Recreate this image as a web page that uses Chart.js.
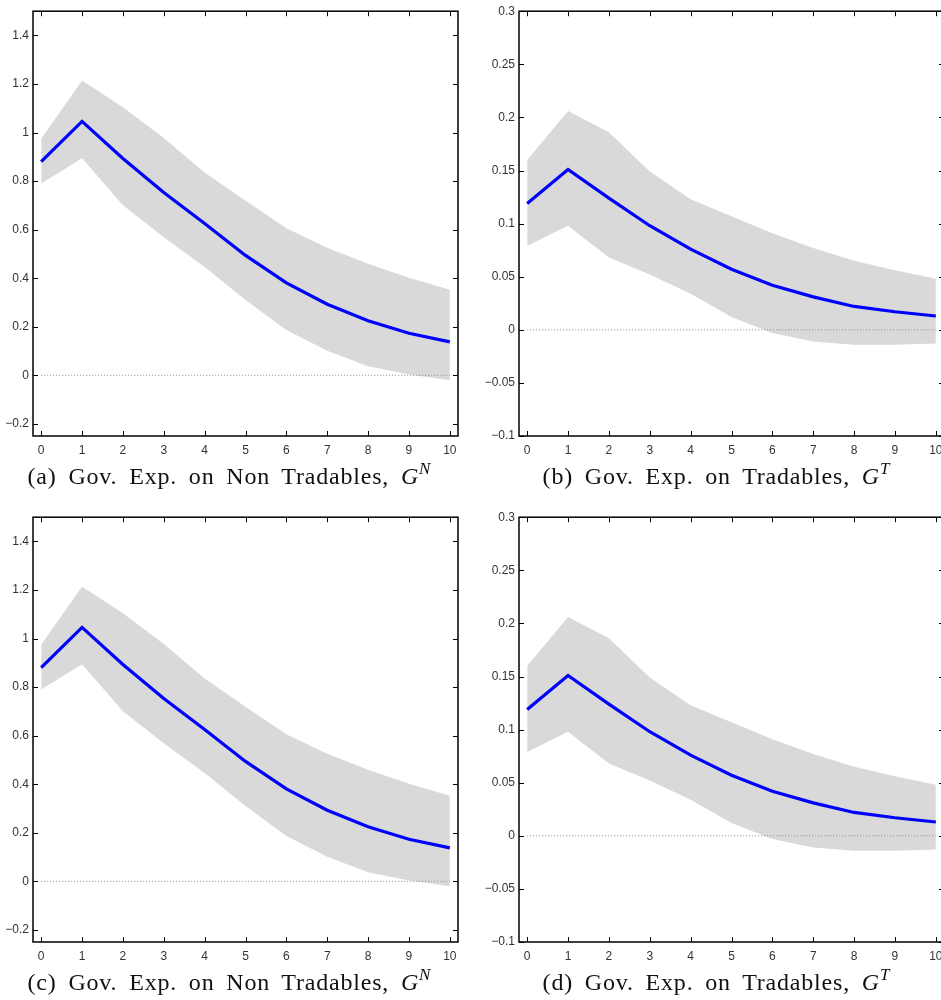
<!DOCTYPE html>
<html>
<head>
<meta charset="utf-8">
<script src="https://cdn.jsdelivr.net/npm/chart.js@4.4.1/dist/chart.umd.min.js"></script>
<style>
  html, body { margin: 0; padding: 0; background: #fff; overflow: hidden; width: 941px; height: 1000px; }
  .panel { position: absolute; }
  .caption {
    position: absolute; width: 470px; text-align: center; white-space: nowrap;
    font-family: 'Liberation Serif', 'DejaVu Serif', serif; font-size: 24px; line-height: 24px;
    letter-spacing: 0.8px; word-spacing: 5px; color: #111;
  }
  .caption i sup { font-size: 17px; position: relative; top: -1px; letter-spacing: 0; }
</style>
</head>
<body>

<div class="panel" style="left:0;top:0"><canvas id="chartA" width="470" height="460"></canvas></div>
<div class="panel" style="left:470px;top:0"><canvas id="chartB" width="480" height="460"></canvas></div>
<div class="panel" style="left:0;top:506px"><canvas id="chartC" width="470" height="460"></canvas></div>
<div class="panel" style="left:470px;top:506px"><canvas id="chartD" width="480" height="460"></canvas></div>

<div class="caption" style="left:-6px;top:458px">(a) Gov. Exp. on Non Tradables, <i>G<sup>N</sup></i></div>
<div class="caption" style="left:481px;top:458px">(b) Gov. Exp. on Tradables, <i>G<sup>T</sup></i></div>
<div class="caption" style="left:-6px;top:964px">(c) Gov. Exp. on Non Tradables, <i>G<sup>N</sup></i></div>
<div class="caption" style="left:481px;top:964px">(d) Gov. Exp. on Tradables, <i>G<sup>T</sup></i></div>

<script>
// horizon (quarters after shock)
const horizon = [0, 1, 2, 3, 4, 5, 6, 7, 8, 9, 10];
const xTicks = [0, 1, 2, 3, 4, 5, 6, 7, 8, 9, 10];

// response to non tradables spending shock
const meanGN  = [0.88, 1.046, 0.893, 0.753, 0.625, 0.494, 0.381, 0.293, 0.225, 0.173, 0.138];
const upperGN = [0.975, 1.214, 1.104, 0.978, 0.835, 0.719, 0.606, 0.525, 0.46, 0.402, 0.353];
const lowerGN = [0.79, 0.894, 0.701, 0.569, 0.446, 0.31, 0.187, 0.101, 0.037, 0.003, -0.02];
const yTicksGN = [-0.2, 0, 0.2, 0.4, 0.6, 0.8, 1, 1.2, 1.4];

// response to tradables spending shock
const meanGT  = [0.119, 0.151, 0.124, 0.098, 0.076, 0.057, 0.042, 0.031, 0.022, 0.017, 0.013];
const upperGT = [0.16, 0.206, 0.186, 0.149, 0.123, 0.107, 0.091, 0.077, 0.065, 0.056, 0.048];
const lowerGT = [0.079, 0.098, 0.068, 0.052, 0.034, 0.012, -0.003, -0.011, -0.014, -0.014, -0.013];
const yTicksGT = [-0.1, -0.05, 0, 0.05, 0.1, 0.15, 0.2, 0.25, 0.3];

const zeroRef = [0, 0, 0, 0, 0, 0, 0, 0, 0, 0, 0];

// matlab style box with ticks pointing inward
const frame = {
  id: 'frame',
  afterDatasetsDraw(chart) {
    const { ctx, chartArea: a, scales: { x, y } } = chart;
    ctx.save();
    ctx.strokeStyle = '#000';
    ctx.lineWidth = 1;
    ctx.beginPath();
    x.ticks.forEach(t => {
      const px = Math.round(x.getPixelForValue(t.value)) + 0.5;
      ctx.moveTo(px, a.bottom); ctx.lineTo(px, a.bottom - 5);
      ctx.moveTo(px, a.top); ctx.lineTo(px, a.top + 5);
    });
    y.ticks.forEach(t => {
      const py = Math.round(y.getPixelForValue(t.value)) + 0.5;
      ctx.moveTo(a.left, py); ctx.lineTo(a.left + 5, py);
      ctx.moveTo(a.right, py); ctx.lineTo(a.right - 5, py);
    });
    ctx.stroke();
    ctx.lineWidth = 1.5;
    ctx.strokeRect(a.left, a.top, a.right - a.left, a.bottom - a.top);
    ctx.restore();
  }
};

const pts = arr => horizon.map((h, i) => ({ x: h, y: arr[i] }));
const fmt = v => (v < 0 ? '\u2212' : '') + Math.abs(v);

function makeChart(id, mean, upper, lower, yTicks, yMin, yMax, yWidth, padRight) {
  return new Chart(document.getElementById(id), {
    type: 'line',
    data: {
      datasets: [
        { data: pts(mean), borderColor: '#0000ff', borderWidth: 3.2, fill: false },
        { data: pts(zeroRef), borderColor: '#8c8c8c', borderWidth: 1, borderDash: [1, 2], fill: false },
        { data: pts(upper), borderWidth: 0, borderColor: 'rgba(0,0,0,0)', backgroundColor: '#d9d9d9', fill: '+1' },
        { data: pts(lower), borderWidth: 0, borderColor: 'rgba(0,0,0,0)', fill: false }
      ]
    },
    options: {
      responsive: false,
      animation: false,
      devicePixelRatio: 1,
      layout: { padding: { top: 9, right: padRight, left: 0, bottom: 0 } },
      elements: { point: { radius: 0 }, line: { tension: 0 } },
      plugins: { legend: { display: false }, tooltip: { enabled: false } },
      scales: {
        x: {
          type: 'linear', min: -0.2, max: 10.2,
          grid: { display: false, drawTicks: false },
          border: { display: false },
          afterBuildTicks: s => { s.ticks = xTicks.map(v => ({ value: v })); },
          afterFit: s => { s.height = 24; },
          ticks: { padding: 7, color: '#333', font: { family: 'Liberation Sans', size: 12 }, maxRotation: 0, callback: fmt }
        },
        y: {
          min: yMin, max: yMax,
          grid: { display: false, drawTicks: false },
          border: { display: false },
          afterBuildTicks: s => { s.ticks = yTicks.map(v => ({ value: v })); },
          afterFit: s => { s.width = yWidth; },
          ticks: { padding: 4, color: '#333', font: { family: 'Liberation Sans', size: 12 }, callback: fmt }
        }
      }
    },
    plugins: [frame]
  });
}

makeChart('chartA', meanGN, upperGN, lowerGN, yTicksGN, -0.25, 1.5, 33, 12);
makeChart('chartB', meanGT, upperGT, lowerGT, yTicksGT, -0.1, 0.3, 49, 6);
makeChart('chartC', meanGN, upperGN, lowerGN, yTicksGN, -0.25, 1.5, 33, 12);
makeChart('chartD', meanGT, upperGT, lowerGT, yTicksGT, -0.1, 0.3, 49, 6);
</script>
</body>
</html>
